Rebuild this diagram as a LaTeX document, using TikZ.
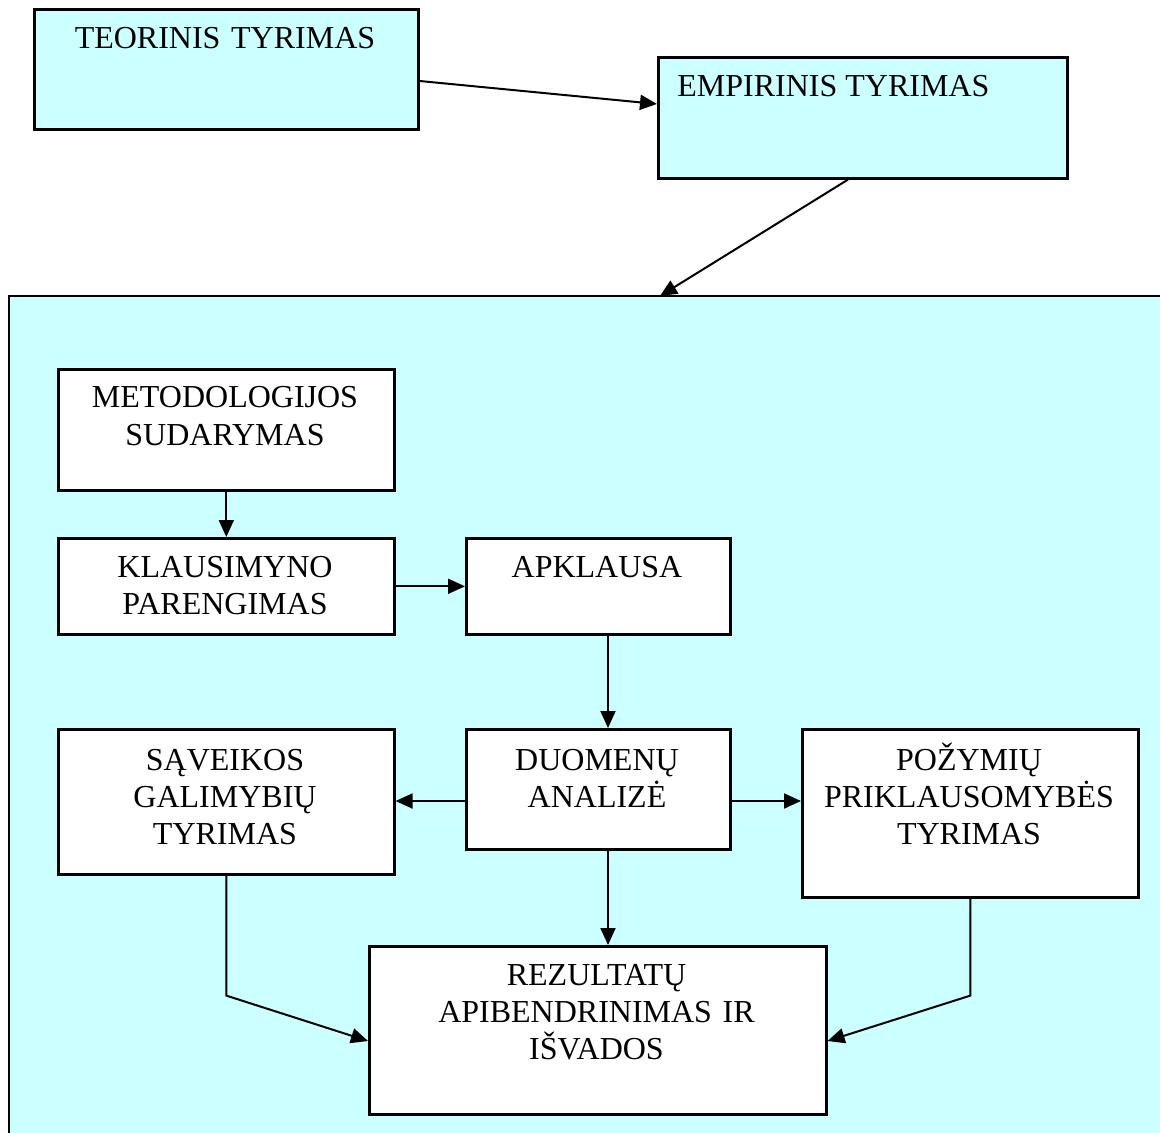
\documentclass[tikz,border=0pt]{standalone}
\usepackage{fontspec}
\setmainfont{Liberation Serif}
\usetikzlibrary{arrows.meta,calc}
\definecolor{paleCyan}{RGB}{204,255,255}
\begin{document}
\begin{tikzpicture}[x=0.5pt,y=-0.5pt,
  box/.style={draw=black,line width=1.3pt,fill=white,rectangle,inner sep=0pt,anchor=north west},
  cyanbox/.style={box,fill=paleCyan},
  lbl/.style={inner sep=0pt,anchor=base,align=center,font=\fontsize{16pt}{18.6pt}\selectfont},
  link/.style={line width=1pt,-{Triangle[length=8.5pt,width=7.5pt]}}
]
\useasboundingbox (0,0) rectangle (1160,1133);

% study area (runs off the right and bottom edges)
\node[fill=paleCyan,inner sep=0pt,anchor=north west,minimum width=575.5pt,minimum height=418.5pt] (study) at (9,296) {};
\draw[line width=1.3pt] (study.north east) -- (study.north west) -- (study.south west);

% top boxes
\node[cyanbox,minimum width=192pt,minimum height=60pt] (teo) at (33,8) {};
\node[lbl,text width=192pt] (teoT) at (225,49) {TEORINIS TYRIMAS};
\node[cyanbox,minimum width=204.5pt,minimum height=60.5pt] (emp) at (657,56) {};
\node[lbl,anchor=base west] (empT) at (677,97) {EMPIRINIS TYRIMAS};

% inner boxes
\node[box,minimum width=168pt,minimum height=60.5pt] (met) at (57,368) {};
\node[lbl,text width=168pt] (metT) at (225,408) {METODOLOGIJOS\\SUDARYMAS};

\node[box,minimum width=168pt,minimum height=48pt] (kla) at (57,537) {};
\node[lbl,text width=168pt] (klaT) at (225,577) {KLAUSIMYNO\\PARENGIMAS};

\node[box,minimum width=132pt,minimum height=48pt] (apk) at (465,537) {};
\node[lbl,text width=132pt] (apkT) at (597,577) {APKLAUSA};

\node[box,minimum width=132pt,minimum height=60pt] (duo) at (465,728) {};
\node[lbl,text width=132pt] (duoT) at (597,770) {DUOMENŲ\\ANALIZĖ};

\node[box,minimum width=168pt,minimum height=72.5pt] (sav) at (57,728) {};
\node[lbl,text width=168pt] (savT) at (225,770) {SĄVEIKOS\\GALIMYBIŲ\\TYRIMAS};

\node[box,minimum width=168pt,minimum height=84pt] (poz) at (801,728) {};
\node[lbl,text width=168pt] (pozT) at (969,770) {POŽYMIŲ\\PRIKLAUSOMYBĖS\\TYRIMAS};

\node[box,minimum width=228.5pt,minimum height=84pt] (rez) at (368,945) {};
\node[lbl,text width=228.5pt] (rezT) at (596.5,985) {REZULTATŲ\\APIBENDRINIMAS IR\\IŠVADOS};

% connectors
\draw[link] ($(teo.north east)+(0,73)$) -- ($(emp.north west)+(0,48)$);
\draw[link] ($(emp.south west)+(191,0)$) -- ($(study.north west)+(651,0)$);
\draw[link] (met.south) -- (kla.north);
\draw[link] (kla.east) -- (apk.west);
\draw[link] ($(apk.south west)+(143,0)$) -- ($(duo.north west)+(143,0)$);
\draw[link] ($(duo.north west)+(0,73)$) -- ($(sav.north east)+(0,73)$);
\draw[link] ($(duo.north east)+(0,73)$) -- ($(poz.north west)+(0,73)$);
\draw[link] ($(duo.south west)+(143,0)$) -- ($(rez.north west)+(240,0)$);
\draw[link] (sav.south) -- ++(0,120) -- ($(rez.north west)+(0,96)$);
\draw[link] (poz.south) -- ++(0,97) -- ($(rez.north east)+(0,96)$);
\end{tikzpicture}
\end{document}
